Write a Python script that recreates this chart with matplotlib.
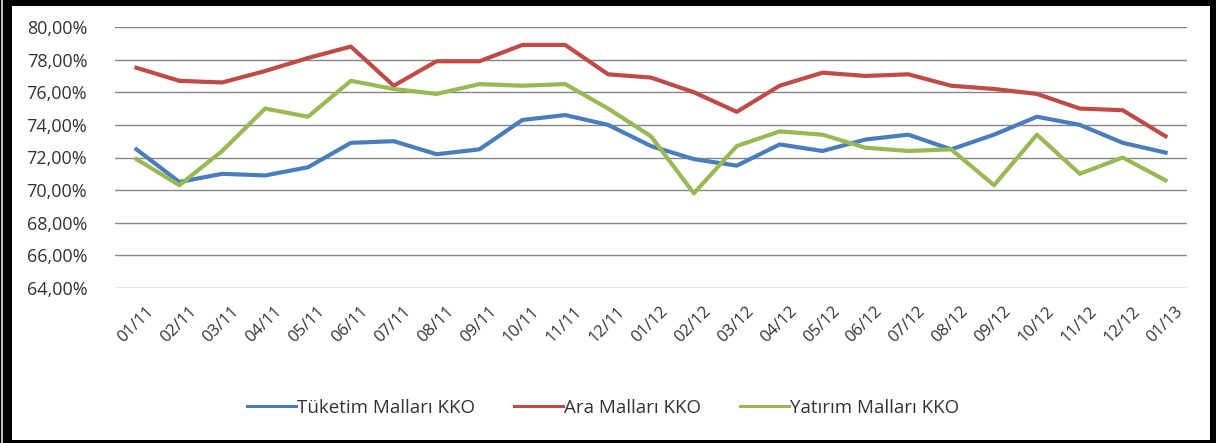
import matplotlib
matplotlib.use("Agg")
import matplotlib.pyplot as plt
import matplotlib.transforms as mtransforms
from matplotlib.patches import Rectangle
from matplotlib.ticker import FuncFormatter, MultipleLocator

# ========== DATA ==========
months = ["01/11", "02/11", "03/11", "04/11", "05/11", "06/11", "07/11", "08/11",
          "09/11", "10/11", "11/11", "12/11", "01/12", "02/12", "03/12", "04/12",
          "05/12", "06/12", "07/12", "08/12", "09/12", "10/12", "11/12", "12/12", "01/13"]

tuketim = [72.5, 70.5, 71.0, 70.9, 71.4, 72.9, 73.0, 72.2, 72.5, 74.3, 74.6, 74.0, 72.7,
           71.9, 71.5, 72.8, 72.4, 73.1, 73.4, 72.5, 73.4, 74.5, 74.0, 72.9, 72.3]
ara = [77.5, 76.7, 76.6, 77.3, 78.1, 78.8, 76.4, 77.9, 77.9, 78.9, 78.9, 77.1, 76.9,
       76.0, 74.8, 76.4, 77.2, 77.0, 77.1, 76.4, 76.2, 75.9, 75.0, 74.9, 73.3]
yatirim = [71.9, 70.3, 72.4, 75.0, 74.5, 76.7, 76.2, 75.9, 76.5, 76.4, 76.5, 75.0, 73.3,
           69.8, 72.7, 73.6, 73.4, 72.6, 72.4, 72.5, 70.3, 73.4, 71.0, 72.0, 70.6]

series_names = ["Tüketim Malları KKO", "Ara Malları KKO", "Yatırım Malları KKO"]
colors = ["#4A7EBB", "#BE4B48", "#98B954"]

# ========== PLOT ==========
plt.rcParams["font.family"] = ["Open Sans", "DejaVu Sans"]

fig = plt.figure(figsize=(12.16, 4.43), dpi=100, facecolor="black")
W, H = 1216, 443

# white page with thick black frame
fig.add_artist(Rectangle((12 / W, 3 / H), (1210 - 12) / W, (437 - 3) / H,
                         transform=fig.transFigure, facecolor="white",
                         edgecolor="none", zorder=0))
fig.add_artist(Rectangle((1 / W, 0), 2 / W, 1, transform=fig.transFigure,
                         facecolor="#bdbdbd", edgecolor="none", zorder=0))

ax = fig.add_axes([115 / W, 1 - 288 / H, (1187 - 115) / W, (288 - 27) / H])
ax.set_facecolor("white")

x = range(len(months))
for vals, name, c in zip([tuketim, ara, yatirim], series_names, colors):
    ax.plot(x, vals, color=c, lw=3, label=name, solid_joinstyle="round", zorder=3)

ax.set_xlim(-0.5, len(months) - 0.5)
ax.set_ylim(64, 80)
ax.yaxis.set_major_locator(MultipleLocator(2))
ax.yaxis.set_major_formatter(FuncFormatter(lambda v, p: f"{v:.2f}".replace(".", ",") + "%"))
ax.grid(axis="y", color="#868686", lw=1)
ax.set_axisbelow(True)
for s in ax.spines.values():
    s.set_visible(False)

ax.set_xticks(list(x))
ax.set_xticklabels(months, rotation=45, ha="right", rotation_mode="anchor")
ax.tick_params(axis="both", length=0, colors="#333333")
ax.tick_params(axis="y", pad=20, labelsize=13)
ax.tick_params(axis="x", pad=11, labelsize=12)
offset = mtransforms.ScaledTranslation(9 / 100, 0, fig.dpi_scale_trans)
for lbl in ax.get_xticklabels():
    lbl.set_transform(lbl.get_transform() + offset)

leg = fig.legend(loc="center", bbox_to_anchor=(603 / W, 1 - 408 / H), ncol=3, frameon=False,
                 fontsize=13.5, handlelength=2.6, handletextpad=0.05, columnspacing=2.1,
                 labelcolor="#333333")
for h in leg.get_lines():
    h.set_linewidth(2.2)

fig.savefig("out.png", dpi=100, facecolor=fig.get_facecolor())
